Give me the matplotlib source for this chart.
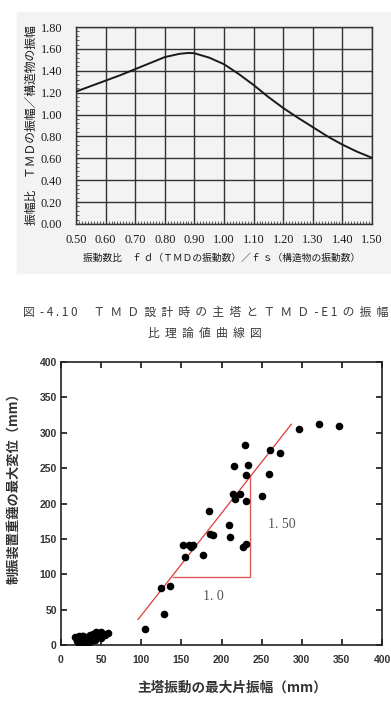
import matplotlib
matplotlib.use("Agg")
import matplotlib.pyplot as plt
from matplotlib.ticker import MultipleLocator

plt.rcParams['font.family'] = ['Noto Sans CJK JP', 'DejaVu Sans']

# 上段: 振幅比理論値曲線
freq_ratio = [0.50, 0.55, 0.60, 0.65, 0.70, 0.75, 0.80, 0.85, 0.88, 0.90, 0.95,
              1.00, 1.05, 1.10, 1.15, 1.20, 1.25, 1.30, 1.35, 1.40, 1.45, 1.50]
amp_ratio = [1.21, 1.26, 1.31, 1.36, 1.415, 1.47, 1.525, 1.555, 1.563, 1.56, 1.52,
             1.46, 1.37, 1.27, 1.16, 1.06, 0.97, 0.885, 0.80, 0.725, 0.66, 0.605]
top_xticks = [0.5, 0.6, 0.7, 0.8, 0.9, 1.0, 1.1, 1.2, 1.3, 1.4, 1.5]
top_yticks = [0.0, 0.2, 0.4, 0.6, 0.8, 1.0, 1.2, 1.4, 1.6, 1.8]

# 下段: 実測値
tower_amp = [296, 321, 346, 229, 261, 273, 216, 233, 230, 259, 214, 223, 217, 230,
             251, 185, 209, 186, 190, 211, 152, 159, 162, 164, 230, 227, 155, 177,
             124, 136, 128, 105,
             18, 20, 22, 24, 26, 28, 30, 32, 34, 36, 38, 40, 42, 44, 46, 48, 50,
             52, 55, 58, 20, 25, 30, 35, 40, 45, 50, 22, 28, 38]
tmd_disp = [305, 313, 309, 283, 276, 271, 253, 255, 240, 242, 214, 214, 206, 203,
            210, 190, 170, 157, 156, 153, 142, 142, 138, 141, 143, 139, 125, 127,
            81, 83, 44, 22,
            12, 5, 2, 10, 13, 6, 3, 12, 8, 14, 10, 16, 7, 18, 12, 15, 10,
            16, 14, 17, 10, 4, 8, 4, 12, 14, 18, 13, 13, 5]
fit_x = [96, 287]
fit_y = [36, 312]
tri_x = [140, 236, 236]
tri_y = [96, 96, 240]
bottom_ticks = [0, 50, 100, 150, 200, 250, 300, 350, 400]

caption1 = ("図  - 4 . 1 0      " + "  ".join("ＴＭＤ設計時の主塔とＴＭＤ")
            + "  - E 1  の  振  幅")
caption2 = "  ".join("比理論値曲線図")

fig = plt.figure(figsize=(3.91, 7.05), dpi=100)

# scanned figure background
fig.patches.append(plt.Rectangle((0.0435, 0.613), 0.9565, 0.370,
                                 transform=fig.transFigure, color='#f3f3f3', zorder=-5))

ax1 = fig.add_axes([0.1944, 0.6823, 0.757, 0.2794])
ax1.set_facecolor('#f3f3f3')
ax1.plot(freq_ratio, amp_ratio, color='#1a1a1a', lw=1.4, zorder=3)
ax1.set_xlim(0.5, 1.5)
ax1.set_ylim(0, 1.8)
ax1.set_xticks(top_xticks)
ax1.set_yticks(top_yticks)
ax1.set_xticklabels([f"{v:.2f}" for v in top_xticks], family='Liberation Serif', fontsize=8.8)
ax1.set_yticklabels([f"{v:.2f}" for v in top_yticks], family='Liberation Serif', fontsize=8.8)
ax1.xaxis.set_minor_locator(MultipleLocator(0.01))
ax1.yaxis.set_minor_locator(MultipleLocator(0.04))
ax1.tick_params(which='major', direction='in', length=0, colors='#1a1a1a')
ax1.tick_params(axis='x', which='major', pad=7)
ax1.tick_params(axis='y', which='major', pad=10)
ax1.tick_params(which='minor', direction='in', length=2, width=0.6, color='#444')
ax1.grid(True, color='#333', lw=1.0)
for s in ax1.spines.values():
    s.set_color('#333')
    s.set_linewidth(1.0)

fig.text(222 / 391, 1 - 258 / 705, "振動数比　ｆ ｄ（ＴＭＤの振動数）／ｆ ｓ（構造物の振動数）",
         ha='center', va='center', fontsize=7, color='#1a1a1a')
fig.text(31 / 391, 1 - 125 / 705, "振幅比　ＴＭＤの振幅／構造物の振幅",
         ha='center', va='center', rotation=90, fontsize=8.5, color='#1a1a1a')

fig.text(206 / 391, 1 - 312 / 705, caption1,
         ha='center', va='center', fontsize=8.5, color='#3a3a3a')
fig.text(205 / 391, 1 - 333 / 705, caption2,
         ha='center', va='center', fontsize=8.5, color='#3a3a3a')

ax2 = fig.add_axes([0.156, 0.0851, 0.821, 0.4014])
ax2.scatter(tower_amp, tmd_disp, s=20, color='black', zorder=3)
ax2.plot(fit_x, fit_y, color='#e03a3a', lw=0.9)
ax2.plot(tri_x, tri_y, color='#e05a5a', lw=1.0)
ax2.text(275, 170, "1. 50", family='Liberation Serif', fontsize=10, color='#555',
         ha='center', va='center')
ax2.text(190, 69, "1. 0", family='Liberation Serif', fontsize=10, color='#555',
         ha='center', va='center')
ax2.set_xlim(0, 400)
ax2.set_ylim(0, 400)
ax2.set_xticks(bottom_ticks)
ax2.set_yticks(bottom_ticks)
ax2.set_xticklabels([str(v) for v in bottom_ticks], family='Liberation Sans',
                    fontweight='bold', fontsize=7.5, color='#333')
ax2.set_yticklabels([str(v) for v in bottom_ticks], family='Liberation Sans',
                    fontweight='bold', fontsize=7.5, color='#333')
ax2.tick_params(direction='in', length=4, width=1.1, top=True, right=True)
ax2.tick_params(axis='x', pad=7)
ax2.tick_params(axis='y', pad=3)
for s in ax2.spines.values():
    s.set_linewidth(1.2)
    s.set_color('#222')

fig.text(232 / 391, 1 - 688 / 705, "主塔振動の最大片振幅（mm）",
         ha='center', va='center', fontsize=9.8, fontweight='bold', color='#333')
fig.text(13 / 391, 1 - 485 / 705, "制振装置重錘の最大変位（mm）",
         ha='center', va='center', rotation=90, fontsize=9.5, fontweight='bold', color='#333')

fig.savefig("out.png", dpi=100)
